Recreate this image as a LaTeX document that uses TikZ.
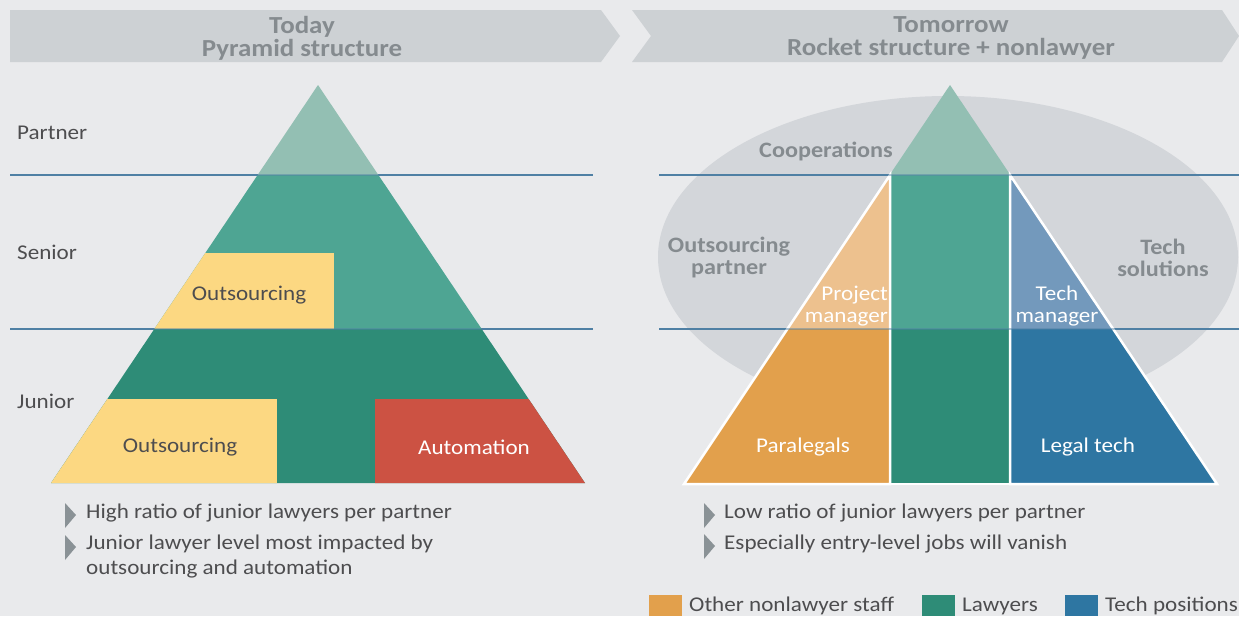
\documentclass[tikz,border=0pt]{standalone}
\usepackage{fontspec}
\setmainfont{Carlito}[FakeStretch=1.1]
\definecolor{bgc}{HTML}{E9EAEC}
\definecolor{bannerc}{HTML}{CDD1D4}
\definecolor{bannertxt}{HTML}{858B8F}
\definecolor{ellc}{HTML}{D3D6DA}
\definecolor{linec}{HTML}{4F80A4}
\definecolor{partnerc}{HTML}{93BFB3}
\definecolor{seniorc}{HTML}{4EA593}
\definecolor{juniorc}{HTML}{2E8C77}
\definecolor{yellowc}{HTML}{FCD882}
\definecolor{redc}{HTML}{CC5243}
\definecolor{orangelt}{HTML}{EDC18E}
\definecolor{orangec}{HTML}{E2A04C}
\definecolor{bluelt}{HTML}{7399BC}
\definecolor{bluec}{HTML}{2E76A2}
\definecolor{txtc}{HTML}{4D4D4F}
\definecolor{bulletc}{HTML}{8A9296}
\tikzset{
  bannertext/.style={font=\bfseries\fontsize{24.5}{23}\selectfont, text=bannertxt, align=center, inner sep=0pt},
  rowlabel/.style={font=\fontsize{21}{24}\selectfont, text=txtc, anchor=west, inner sep=0pt},
  boxlabel/.style={font=\fontsize{21}{22}\selectfont, inner sep=0pt, align=center},
  graylabel/.style={font=\bfseries\fontsize{22}{22}\selectfont, text=bannertxt, inner sep=0pt, align=center},
  bullettext/.style={font=\fontsize{21}{25}\selectfont, text=txtc, anchor=west, inner sep=0pt, align=left},
  bulletmark/.style={fill=bulletc},
  sepline/.style={draw=linec, line width=1.3pt},
  whiteedge/.style={draw=white, line width=2.5pt, line join=miter},
  legendsq/.style={minimum width=33pt, minimum height=21pt, inner sep=0pt, anchor=north west},
}
\begin{document}
\begin{tikzpicture}[x=1pt,y=-1pt]
\useasboundingbox (0,0) rectangle (1239,616);
\fill[bgc] (0,0) rectangle (1239,616);

% banners
\fill[bannerc] (10,10) -- (601,10) -- (620,36) -- (601,62) -- (10,62) -- cycle;
\fill[bannerc] (632,10) -- (1222,10) -- (1239,36) -- (1222,62) -- (632,62) -- (651,36) -- cycle;
\node[bannertext] (btoday) at (302,38) {Today\\Pyramid structure};
\node[bannertext] (btomorrow) at (951,38) {Tomorrow\\Rocket structure + nonlawyer};

% ellipse (right)
\fill[ellc] (948,257) ellipse [x radius=290, y radius=161];

% lines under
\draw[sepline] (10,175) -- (593,175);
\draw[sepline] (10,329) -- (593,329);
\draw[sepline] (659,175) -- (1239,175);
\draw[sepline] (659,329) -- (1239,329);

% left pyramid
\begin{scope}
\clip (51,483) -- (318,85) -- (585,483) -- cycle;
\fill[partnerc] (0,80) rectangle (640,175);
\fill[seniorc] (0,175) rectangle (640,329);
\fill[juniorc] (0,329) rectangle (640,490);
\fill[yellowc] (0,253) rectangle (334,329);
\fill[yellowc] (0,399) rectangle (277,490);
\fill[redc] (375,399) rectangle (640,490);
\end{scope}

% right pyramid
\begin{scope}
\clip (890,175) -- (890,484) -- (684,484) -- cycle;
\fill[orangelt] (650,170) rectangle (900,329);
\fill[orangec] (650,329) rectangle (900,490);
\end{scope}
\begin{scope}
\clip (1010,175) -- (1010,484) -- (1217,484) -- cycle;
\fill[bluelt] (1000,170) rectangle (1239,329);
\fill[bluec] (1000,329) rectangle (1239,490);
\end{scope}
\fill[seniorc] (890,175) rectangle (1010,329);
\fill[juniorc] (890,329) rectangle (1010,484);
\fill[partnerc] (950,85) -- (1010.4,175) -- (889.6,175) -- cycle;
\draw[whiteedge] (890,175) -- (890,484) -- (684,484) -- cycle;
\draw[whiteedge] (1010,175) -- (1010,484) -- (1217,484) -- cycle;
\draw[whiteedge] (890,484) -- (1010,484);

% lines over (faint)
\draw[sepline, opacity=0.45] (205,175) -- (440,175);
\draw[sepline, opacity=0.45] (100,329) -- (540,329);
\draw[sepline, opacity=0.45] (880,175) -- (1020,175);
\draw[sepline, opacity=0.45] (780,329) -- (1120,329);

% row labels
\node[rowlabel] (lpartner) at (17,133) {Partner};
\node[rowlabel] (lsenior) at (17,252) {Senior};
\node[rowlabel] (ljunior) at (17,401) {Junior};

% left pyramid labels
\node[boxlabel, text=txtc] (osenior) at (249,295) {Outsourcing};
\node[boxlabel, text=txtc] (ojunior) at (180,447) {Outsourcing};
\node[boxlabel, text=white] (auto) at (474,447) {Automation};

% right labels
\node[graylabel] (coop) at (826,151) {Cooperations};
\node[graylabel] (opartner) at (729,258) {Outsourcing\\partner};
\node[graylabel] (tsol) at (1163,258) {Tech\\solutions};
\node[boxlabel, text=white, align=right, anchor=east] (pm) at (888,306) {Project\\manager};
\node[boxlabel, text=white] (tm) at (1057,306) {Tech\\manager};
\node[boxlabel, text=white] (para) at (803,447) {Paralegals};
\node[boxlabel, text=white] (ltech) at (1088,447) {Legal tech};

% bullets left
\fill[bulletmark] (65,503) -- (76,515) -- (65,528) -- cycle;
\node[bullettext] (b1) at (86,513) {High ratio of junior lawyers per partner};
\fill[bulletmark] (65,535) -- (76,547) -- (65,560) -- cycle;
\node[bullettext, anchor=north west] (b2) at (86,535) {Junior lawyer level most impacted by\\outsourcing and automation};

% bullets right
\fill[bulletmark] (704,503) -- (715,515) -- (704,528) -- cycle;
\node[bullettext] (b3) at (724,513) {Low ratio of junior lawyers per partner};
\fill[bulletmark] (704,534) -- (715,546) -- (704,559) -- cycle;
\node[bullettext] (b4) at (724,544) {Especially entry-level jobs will vanish};

% legend
\node[legendsq, fill=orangec] (sq1) at (649,595) {};
\node[bullettext] (lg1) at (689,606) {Other nonlawyer staff};
\node[legendsq, fill=juniorc] (sq2) at (922,595) {};
\node[bullettext] (lg2) at (962,606) {Lawyers};
\node[legendsq, fill=bluec] (sq3) at (1065,595) {};
\node[bullettext] (lg3) at (1105,606) {Tech positions};
\end{tikzpicture}
\end{document}
